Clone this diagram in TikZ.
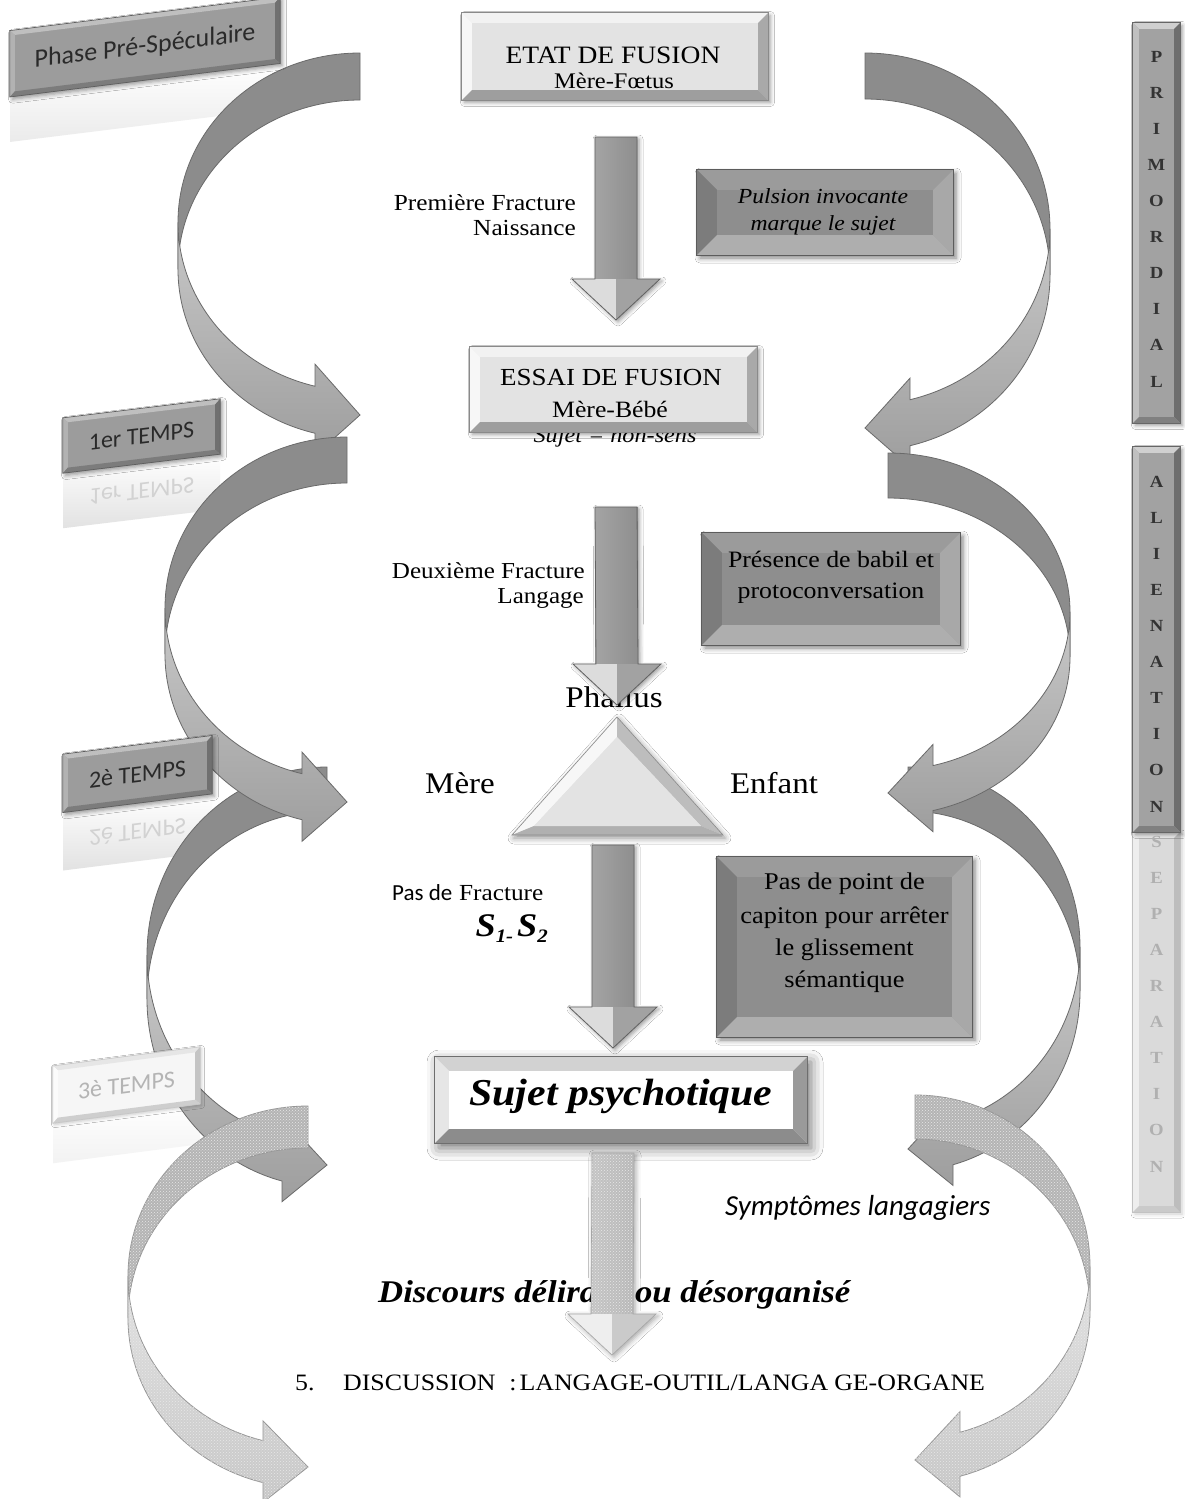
\documentclass[tikz,border=0pt]{standalone}
\usepackage{fontspec}
\setmainfont{Liberation Serif}[FakeStretch=1.1]
\newfontfamily\calibfont{Carlito}
\usetikzlibrary{calc,shadows.blur,patterns}

\newcommand\fs[2]{\fontsize{#1}{#2}\selectfont}

% ribbon arrows
\definecolor{arrback}{HTML}{8C8C8C}
\definecolor{arrfrontA}{HTML}{C8C8C8}
\definecolor{arrfrontB}{HTML}{9E9E9E}
\definecolor{arrline}{HTML}{6A6A6A}
\definecolor{grainback}{HTML}{B4B4B4}
\definecolor{grainfrontA}{HTML}{E2E2E2}
\definecolor{grainfrontB}{HTML}{C6C6C6}
\definecolor{grainline}{HTML}{969696}
% bevel boxes
\definecolor{lbF}{HTML}{E3E3E3}\definecolor{lbT}{HTML}{F2F2F2}\definecolor{lbL}{HTML}{F7F7F7}
\definecolor{lbR}{HTML}{A9A9A9}\definecolor{lbB}{HTML}{9E9E9E}\definecolor{lbE}{HTML}{8A8A8A}
\definecolor{dbF}{HTML}{8E8E8E}\definecolor{dbT}{HTML}{9B9B9B}\definecolor{dbL}{HTML}{7C7C7C}
\definecolor{dbR}{HTML}{A8A8A8}\definecolor{dbB}{HTML}{AEAEAE}\definecolor{dbE}{HTML}{5C5C5C}
\definecolor{wbF}{HTML}{FFFFFF}\definecolor{wbT}{HTML}{D2D2D2}\definecolor{wbL}{HTML}{E6E6E6}
\definecolor{wbR}{HTML}{9A9A9A}\definecolor{wbB}{HTML}{8C8C8C}\definecolor{wbE}{HTML}{6E6E6E}
\definecolor{tgF}{HTML}{9C9C9C}\definecolor{tgT}{HTML}{BFBFBF}\definecolor{tgL}{HTML}{B2B2B2}
\definecolor{tgR}{HTML}{707070}\definecolor{tgB}{HTML}{7C7C7C}\definecolor{tgE}{HTML}{5E5E5E}
\definecolor{ftF}{HTML}{F6F6F6}\definecolor{ftT}{HTML}{E6E6E6}\definecolor{ftL}{HTML}{FBFBFB}
\definecolor{ftR}{HTML}{C4C4C4}\definecolor{ftB}{HTML}{CECECE}\definecolor{ftE}{HTML}{C6C6C6}
\definecolor{vtF}{HTML}{A2A2A2}\definecolor{vtT}{HTML}{D0D0D0}\definecolor{vtL}{HTML}{C0C0C0}
\definecolor{vtR}{HTML}{6E6E6E}\definecolor{vtB}{HTML}{808080}\definecolor{vtE}{HTML}{666666}
\definecolor{vsF}{HTML}{DADADA}\definecolor{vsT}{HTML}{EAEAEA}\definecolor{vsL}{HTML}{EEEEEE}
\definecolor{vsR}{HTML}{BDBDBD}\definecolor{vsB}{HTML}{CACACA}\definecolor{vsE}{HTML}{C2C2C2}
\definecolor{trR}{HTML}{BDBDBD}\definecolor{trB}{HTML}{B0B0B0}
\definecolor{tagtext}{HTML}{2A2A2A}
\definecolor{fadetext}{HTML}{B4B4B4}
\definecolor{vtext}{HTML}{333333}
\definecolor{vfade}{HTML}{B0B0B0}
\definecolor{reflC}{HTML}{E2E2E2}
\definecolor{reflT}{HTML}{D2D2D2}
% block arrows
\definecolor{fa1}{HTML}{9A9A9A}\definecolor{fa2}{HTML}{F2F2F2}\definecolor{fa3}{HTML}{8A8A8A}
\definecolor{fs1}{HTML}{A4A4A4}\definecolor{fs2}{HTML}{F2F2F2}\definecolor{fs3}{HTML}{8E8E8E}
\definecolor{fhL}{HTML}{DCDCDC}\definecolor{fhR}{HTML}{A2A2A2}
\definecolor{faE}{HTML}{626262}
\definecolor{ga1}{HTML}{C4C4C4}\definecolor{ga2}{HTML}{F8F8F8}\definecolor{ga3}{HTML}{B8B8B8}
\definecolor{ghL}{HTML}{EEEEEE}\definecolor{ghR}{HTML}{CACACA}
\definecolor{gaE}{HTML}{A6A6A6}

\tikzset{
  bv face/.store in=\bvface, bv top/.store in=\bvtop, bv left/.store in=\bvleft,
  bv right/.store in=\bvright, bv bottom/.store in=\bvbottom, bv line/.store in=\bvline,
  bv depth/.store in=\bvdepth,
  bvshadow/.style={blur shadow={shadow xshift=2.5pt,shadow yshift=-2.5pt,shadow blur radius=4pt,shadow opacity=40}},
  lightbox/.style={bv face=lbF, bv top=lbT, bv left=lbL, bv right=lbR, bv bottom=lbB, bv line=lbE, bv depth=10},
  darkbox/.style={bv face=dbF, bv top=dbT, bv left=dbL, bv right=dbR, bv bottom=dbB, bv line=dbE, bv depth=20,
    bvshadow/.style={blur shadow={shadow xshift=3pt,shadow yshift=-3pt,shadow blur radius=5pt,shadow opacity=50}}},
  whitebox/.style={bv face=wbF, bv top=wbT, bv left=wbL, bv right=wbR, bv bottom=wbB, bv line=wbE, bv depth=14,
    bvshadow/.style={blur shadow={shadow xshift=4pt,shadow yshift=-5pt,shadow blur radius=12pt,shadow opacity=55}}},
  graytag/.style={bv face=tgF, bv top=tgT, bv left=tgL, bv right=tgR, bv bottom=tgB, bv line=tgE, bv depth=5},
  fadetag/.style={bv face=ftF, bv top=ftT, bv left=ftL, bv right=ftR, bv bottom=ftB, bv line=ftE, bv depth=5,
    bvshadow/.style={blur shadow={shadow xshift=1.5pt,shadow yshift=-1.5pt,shadow blur radius=3pt,shadow opacity=20}}},
  vtag/.style={bv face=vtF, bv top=vtT, bv left=vtL, bv right=vtR, bv bottom=vtB, bv line=vtE, bv depth=6},
  vfadetag/.style={bv face=vsF, bv top=vsT, bv left=vsL, bv right=vsR, bv bottom=vsB, bv line=vsE, bv depth=6,
    bvshadow/.style={blur shadow={shadow xshift=2pt,shadow yshift=-2pt,shadow blur radius=4pt,shadow opacity=20}}},
  backA/.style={fill=arrback, draw=arrline, line width=0.8pt},
  frontA/.style={top color=arrfrontA, bottom color=arrfrontB, draw=arrline, line width=0.8pt},
  grain/.style={postaction={pattern=crosshatch dots, pattern color=black!9}},
  backG/.style={fill=grainback, draw=grainline, line width=0.8pt, grain},
  frontG/.style={top color=grainfrontA, bottom color=grainfrontB, draw=grainline, line width=0.8pt, grain},
  fatA/.style={left color=fa1, middle color=fa2, right color=fa3,
    blur shadow={shadow xshift=2pt,shadow yshift=-2pt,shadow blur radius=4pt,shadow opacity=40}},
  fatAshaft/.style={left color=fs1, middle color=fs2, right color=fs3},
  fatAheadL/.style={fill=fhL}, fatAheadR/.style={fill=fhR},
  fatAedge/.style={draw=faE, line width=0.8pt},
  fatG/.style={left color=ga1, middle color=ga2, right color=ga3,
    blur shadow={shadow xshift=2pt,shadow yshift=-2pt,shadow blur radius=5pt,shadow opacity=35}},
  fatGshaft/.style={left color=ga1, middle color=ga2, right color=ga3, grain},
  fatGheadL/.style={fill=ghL}, fatGheadR/.style={fill=ghR},
  fatGedge/.style={draw=gaE, line width=0.6pt},
  reflect/.style={inner sep=0pt, top color=white, bottom color=reflC, text=reflT},
  tagtxt/.style={font=\calibfont\fs{24}{28}, text=tagtext, inner sep=0pt},
  lbl/.style={anchor=base, inner sep=0pt},
}

% bevelled rectangle: style, name, centre, width, height, extra transform
\newcommand\bevelbox[6]{%
  \begingroup
  \tikzset{#1}%
  \node[#6, bvshadow, minimum width=#4, minimum height=#5, inner sep=0pt, fill=\bvface] (#2) at (#3) {};
  \node[#6, minimum width=#4-2*\bvdepth, minimum height=#5-2*\bvdepth, inner sep=0pt] (#2-in) at (#3) {};
  \fill[\bvtop] (#2.north west) -- (#2.north east) -- (#2-in.north east) -- (#2-in.north west) -- cycle;
  \fill[\bvleft] (#2.north west) -- (#2-in.north west) -- (#2-in.south west) -- (#2.south west) -- cycle;
  \fill[\bvright] (#2.north east) -- (#2.south east) -- (#2-in.south east) -- (#2-in.north east) -- cycle;
  \fill[\bvbottom] (#2.south west) -- (#2-in.south west) -- (#2-in.south east) -- (#2.south east) -- cycle;
  \draw[\bvline, line width=0.7pt] (#2.north west) -- (#2.north east) -- (#2.south east) -- (#2.south west) -- cycle;
  \endgroup
}

% twisted ribbon arrow: x of ends, y of top end, band width, horizontal radius, y of tip, side (1 left, -1 right), back style, front style
\newcommand\curvarrow[8]{%
  \begingroup
  \pgfmathsetmacro\caC{(#2+#5-#3/2)/2}%
  \pgfmathsetmacro\caR{(#5-#3/2-#2)/2}%
  \pgfmathsetmacro\caH{180-acos(45/#4)}%
  \pgfmathsetmacro\caYi{\caR*sin(\caH)}%
  \pgfmathsetmacro\caYo{\caYi+#3}%
  \pgfmathsetmacro\caYw{\caYi-0.47*#3}%
  \pgfmathsetmacro\caYv{\caYo+0.47*#3}%
  \pgfmathsetmacro\caYt{\caR+#3/2}%
  \begin{scope}[shift={(#1,\caC)}, xscale=#6]
    \path[#7] (0,-\caR) arc[start angle=-90, end angle=-180, x radius=#4, y radius=\caR]
      -- ++(0,#3) arc[start angle=180, end angle=270, x radius=#4, y radius=\caR] -- cycle;
    \path[#8] (-#4,0) arc[start angle=180, end angle=\caH, x radius=#4, y radius=\caR]
      -- (-45,\caYw) -- (0,\caYt) -- (-45,\caYv) -- (-45,\caYo)
      arc[start angle=\caH, end angle=180, x radius=#4, y radius=\caR] -- cycle;
  \end{scope}
  \endgroup
}

% block arrow pointing down: start, tip, style prefix (fatA / fatG)
\newcommand\fatarrow[3]{%
  \path[#3] ($(#1)+(-21,0)$) -- ($(#1)+(21,0)$) -- ($(#2)+(21,-41)$) -- ($(#2)+(44,-41)$) -- (#2)
    -- ($(#2)+(-44,-41)$) -- ($(#2)+(-21,-41)$) -- cycle;
  \path[#3shaft] ($(#1)+(-21,0)$) rectangle ($(#2)+(21,-41)$);
  \path[#3headL] ($(#2)+(-44,-41)$) -- ($(#2)+(0,-41)$) -- (#2) -- cycle;
  \path[#3headR] ($(#2)+(44,-41)$) -- ($(#2)+(0,-41)$) -- (#2) -- cycle;
  \path[#3edge] ($(#1)+(-21,0)$) -- ($(#1)+(21,0)$) -- ($(#2)+(21,-41)$) -- ($(#2)+(44,-41)$) -- (#2)
    -- ($(#2)+(-44,-41)$) -- ($(#2)+(-21,-41)$) -- cycle;
}

\begin{document}
\begin{tikzpicture}[x=1pt,y=-1pt]
\useasboundingbox (0,0) rectangle (1184,1499);
\fill[white] (0,0) rectangle (1184,1499);

% reflections under the phase tags
\node[reflect, text=white!95!black, bottom color=white!92!black, yslant=0.124, yscale=-1, anchor=south,
  minimum width=270, minimum height=45, font=\calibfont\fs{26}{30}] (phase-r) at (145,80) {};
\node[reflect, yslant=0.121, yscale=-1, anchor=south, minimum width=157, minimum height=55,
  font=\calibfont\fs{24}{28}] (temps1-r) at (141.5,463.5) {1er TEMPS};
\node[reflect, yslant=0.125, yscale=-1, anchor=south, minimum width=149, minimum height=58,
  font=\calibfont\fs{24}{28}] (temps2-r) at (137.5,803) {2è TEMPS};
\node[reflect, bottom color=white!95!black, text=white, yslant=0.13, yscale=-1, anchor=south,
  minimum width=147, minimum height=40, font=\calibfont\fs{24}{28}] (temps3-r) at (126.5,1113.5) {};

% ribbon arrows, left side then right side
\curvarrow{360}{53}{47}{182}{415}{1}{backA}{frontA}
\curvarrow{327}{767}{44}{180}{1165}{1}{backA}{frontA}
\curvarrow{347}{437}{46}{182}{802}{1}{backA}{frontA}
\curvarrow{308}{1106}{42}{180}{1467}{1}{backG}{frontG}
\curvarrow{865}{53}{46}{185}{428}{-1}{backA}{frontA}
\curvarrow{908}{767}{44}{172}{1149}{-1}{backA}{frontA}
\curvarrow{888}{453}{45}{182}{793}{-1}{backA}{frontA}
\curvarrow{915}{1095}{44}{175}{1460}{-1}{backG}{frontG}

% phase tags
\bevelbox{graytag}{phase}{145,47}{270}{66}{yslant=0.124}
\node[tagtxt, font=\calibfont\fs{26}{30}, yslant=0.124] (phase-t) at (145,47) {Phase Pré-Spéculaire};
\bevelbox{graytag}{temps1}{141.5,436}{157}{55}{yslant=0.121}
\node[tagtxt, yslant=0.121] (temps1-t) at (141.5,436) {1er TEMPS};
\bevelbox{graytag}{temps2}{137.5,774}{149}{58}{yslant=0.125}
\node[tagtxt, yslant=0.125] (temps2-t) at (137.5,774) {2è TEMPS};
\bevelbox{fadetag}{temps3}{126.5,1085}{147}{57}{yslant=0.13}
\node[tagtxt, text=fadetext, yslant=0.13] (temps3-t) at (126.5,1085) {3è TEMPS};

% vertical tags
\bevelbox{vtag}{primordial}{1156.5,223}{47}{400}{}
\node[font=\bfseries\fs{17}{36.1}, text=vtext, align=center, inner sep=0pt] (primordial-t)
  at (1156.5,219) {P\\R\\I\\M\\O\\R\\D\\I\\A\\L};
\bevelbox{vfadetag}{separation}{1156.5,1022}{47}{380}{}
\bevelbox{vtag}{alienation}{1156.5,639.5}{47}{385}{}
\node[font=\bfseries\fs{17}{36.1}, text=vtext, align=center, inner sep=0pt] (alienation-t)
  at (1156.5,644) {A\\L\\I\\E\\N\\A\\T\\I\\O\\N};
\node[font=\bfseries\fs{17}{36.1}, text=vfade, align=center, inner sep=0pt] (separation-t)
  at (1156.5,1004) {S\\E\\P\\A\\R\\A\\T\\I\\O\\N};

% first stage
\bevelbox{lightbox}{etat}{615,56.5}{306}{87}{}
\node[lbl, font=\fs{25}{30}] (etat-1) at (613,63) {ETAT DE FUSION};
\node[lbl, font=\fs{22.3}{27}] (etat-2) at (614,88) {Mère-Fœtus};

\node[lbl, anchor=base east, font=\fs{23}{27}] (fract1-1) at (576,210) {Première Fracture};
\node[lbl, anchor=base east, font=\fs{23}{27}] (fract1-2) at (576,235) {Naissance};

\bevelbox{darkbox}{pulsion}{825,212.5}{256}{85}{}
\node[lbl, font=\itshape\fs{21.5}{26}] (pulsion-1) at (823,203) {Pulsion invocante};
\node[lbl, font=\itshape\fs{21.5}{26}] (pulsion-2) at (823,230) {marque le sujet};

\coordinate (a1s) at (616,137);
\coordinate (a1t) at (616,320);
\fatarrow{a1s}{a1t}{fatA}

% second stage
\node[lbl, font=\itshape\fs{22}{26}] (nonsens) at (615,442) {Sujet = non-sens};
\bevelbox{lightbox}{essai}{613.5,389.5}{287}{85}{}
\node[lbl, font=\fs{24.5}{29}] (essai-1) at (611,385) {ESSAI DE FUSION};
\node[lbl, font=\fs{23.4}{28}] (essai-2) at (610,417) {Mère-Bébé};

\node[lbl, anchor=base east, font=\fs{22.8}{27}] (fract2-1) at (585,578) {Deuxième Fracture};
\node[lbl, anchor=base east, font=\fs{22.8}{27}] (fract2-2) at (584,603) {Langage};

\bevelbox{darkbox}{presence}{831,589}{258}{112}{}
\node[lbl, font=\fs{23.5}{28}] (presence-1) at (831,567) {Présence de babil et};
\node[lbl, font=\fs{23.5}{28}] (presence-2) at (831,598) {protoconversation};

\node[lbl, font=\fs{30}{34}] (phallus) at (614,707) {Phallus};
\coordinate (a2s) at (616,507);
\coordinate (a2t) at (617,705);
\fatarrow{a2s}{a2t}{fatA}

% triangle Mère / Enfant / Phallus
\coordinate (triA) at (617,717);
\coordinate (triL) at (512,835);
\coordinate (triR) at (723,835);
\coordinate (tria) at (617,737);
\coordinate (tril) at (534,826);
\coordinate (trir) at (701,826);
\fill[lbF, blur shadow={shadow xshift=2pt,shadow yshift=-3pt,shadow blur radius=6pt,shadow opacity=45}]
  (triA) -- (triR) -- (triL) -- cycle;
\fill[lbL] (triA) -- (tria) -- (tril) -- (triL) -- cycle;
\fill[trR] (triA) -- (triR) -- (trir) -- (tria) -- cycle;
\fill[trB] (triL) -- (tril) -- (trir) -- (triR) -- cycle;
\fill[lbF] (tria) -- (trir) -- (tril) -- cycle;
\draw[lbE, line width=0.6pt] (triA) -- (triR) -- (triL) -- cycle;
\node[lbl, font=\fs{30}{34}] (mere) at (460,793) {Mère};
\node[lbl, font=\fs{30}{34}] (enfant) at (774,793) {Enfant};

% third stage
\node[lbl, anchor=base west, font=\calibfont\fs{23}{27}] (fract3-a) at (392,900) {Pas de};
\node[lbl, anchor=base west, font=\fs{23}{27}] (fract3-b) at (fract3-a.base east) {\ Fracture};
\node[lbl, anchor=base east, font=\bfseries\itshape\fs{33}{38}] (s1s2) at (548,936)
  {S\raisebox{-6pt}{\fs{19}{22}1-}\hspace{4pt}S\raisebox{-6pt}{\fs{19}{22}2}};

\bevelbox{darkbox}{capiton}{844.5,947}{255}{180}{}
\node[lbl, font=\fs{24}{28}] (capiton-1) at (844.5,889) {Pas de point de};
\node[lbl, font=\fs{24}{28}] (capiton-2) at (844.5,923) {capiton pour arrêter};
\node[lbl, font=\fs{24}{28}] (capiton-3) at (844.5,955) {le glissement};
\node[lbl, font=\fs{24}{28}] (capiton-4) at (844.5,987) {sémantique};

\coordinate (a3s) at (613,845);
\coordinate (a3t) at (613,1048);
\fatarrow{a3s}{a3t}{fatA}

\bevelbox{whitebox}{sujet}{621,1100}{372}{86}{}
\node[lbl, font=\bfseries\itshape\fs{38}{44}] (sujet-t) at (621,1105) {Sujet psychotique};

% outcome
\node[lbl, anchor=base west, font=\calibfont\itshape\fs{29}{34}] (symptomes) at (725,1215) {Symptômes langagiers};
\node[lbl, anchor=base west, font=\bfseries\itshape\fs{31.6}{36}] (discours) at (378,1302)
  {Discours délirant ou désorganisé};
\coordinate (a4s) at (613,1153);
\coordinate (a4t) at (612,1355);
\fatarrow{a4s}{a4t}{fatG}

\node[lbl, anchor=base west, font=\fs{23.5}{28}] (sec-num) at (295,1390) {5.};
\node[lbl, anchor=base west, font=\fs{23.5}{28}] (sec-title) at (343,1390)
  {DISCUSSION\hspace{14pt}:\hspace{3pt}LANGAGE-OUTIL/LANGA\hspace{6pt}GE-ORGANE};
\end{tikzpicture}
\end{document}
